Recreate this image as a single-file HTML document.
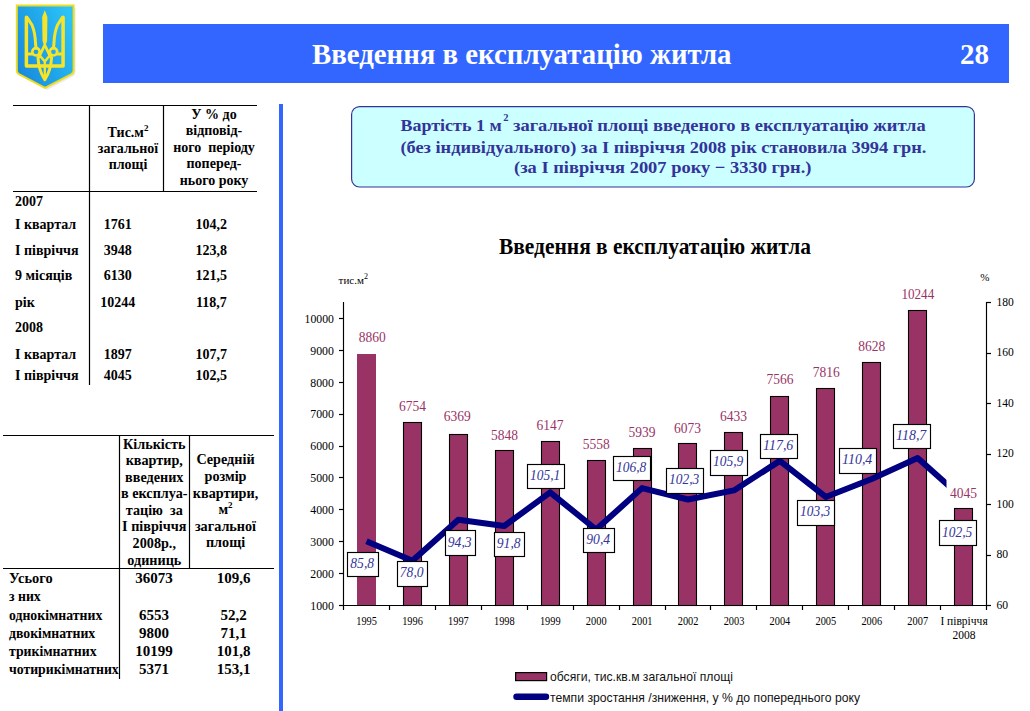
<!DOCTYPE html>
<html><head><meta charset="utf-8">
<style>
html,body{margin:0;padding:0;background:#fff;}
body{width:1030px;height:711px;position:relative;overflow:hidden;}
svg{position:absolute;left:0;top:0;}
text{font-family:"Liberation Serif",serif;fill:#000;}
.hd{font-size:29px;font-weight:bold;fill:#fff;}
.tb{font-size:14px;font-weight:bold;}
.tb2{font-size:14.2px;font-weight:bold;}
.tr2{font-size:13.75px;font-weight:bold;}
.tn2{font-size:15px;font-weight:bold;}
.sup{font-size:9px;}
.sup2{font-size:8px;}
.ibs{font-size:10.5px;font-weight:bold;fill:#333399;}
.ib{font-size:17px;font-weight:bold;fill:#333399;}
.ct{font-size:22.6px;font-weight:bold;}
.un{font-size:11px;}
.ax{font-size:13.2px;}
.xl{font-size:11.5px;}
.vl{font-size:15px;fill:#993366;}
.pl{font-size:14.6px;font-style:italic;fill:#333399;}
.lg{font-family:"Liberation Sans",sans-serif;font-size:12.2px;fill:#111;}
</style></head><body>
<svg width="1030" height="711" viewBox="0 0 1030 711">

 <defs>
  <linearGradient id="sg" x1="0" y1="0.8" x2="1" y2="0.2">
   <stop offset="0" stop-color="#1a88da"/>
   <stop offset="0.5" stop-color="#20a6ea"/>
   <stop offset="1" stop-color="#2cc4f8"/>
  </linearGradient>
 </defs>
 <path d="M18.5 7.5 H75.5 V72 Q75.5 75 73 76.2 L47 90 L21.4 76.2 Q18.5 75 18.5 72 Z" fill="#d4d4d4" opacity="0.5"/>
 <path d="M16.8 5.6 H73.6 V70.5 Q73.6 73.2 71 74.4 L45 87.8 L19.4 74.4 Q16.8 73.2 16.8 70.5 Z" fill="url(#sg)" stroke="#eedc1e" stroke-width="2"/>
 <g fill="none" stroke="#f7e428" stroke-width="3" stroke-linejoin="round" stroke-linecap="round">
  <path d="M26.4 17.2 V65.9 H63.1 V17.2" stroke-width="3.5"/>
  <path d="M27.2 54 H32.4 M57.1 54 H62.4" stroke-width="2.8"/>
  <path d="M27.2 17.6 L32 25 Q35.2 33 35.5 43 L36 48"/>
  <path d="M62.3 17.6 L57.5 25 Q54.3 33 54 43 L53.5 48"/>
  <circle cx="36" cy="51.8" r="3.7" stroke-width="2.7"/>
  <circle cx="53.5" cy="51.8" r="3.7" stroke-width="2.7"/>
  <path d="M44.8 45 L39 56.8 M44.8 45 L50.5 56.8" stroke-width="2.8"/>
  <path d="M39.3 55 L44.8 61.5 L50.2 55" stroke-width="2.5"/>
  <path d="M38 57.5 Q38.6 70 44.8 79.8 Q51 70 51.6 57.5" stroke-width="3"/>
  <path d="M44.8 61.5 V77" stroke-width="2.3"/>
 </g>
 <path d="M44.8 10.2 L47.4 17 L47.1 41 L44.8 47.5 L42.5 41 L42.2 17 Z" fill="#f7e428"/>

<rect x="103" y="24" width="906" height="59" fill="#3366ff"/>
<text x="312" y="64" textLength="419.5" lengthAdjust="spacingAndGlyphs" class="hd">Введення в експлуатацію житла</text>
<text x="960" y="64" class="hd">28</text>
<rect x="279" y="104" width="4" height="607" fill="#3366ff"/>
<line x1="13" y1="105.5" x2="257" y2="105.5" stroke="#000" stroke-width="1.2"/>
<line x1="13" y1="191.5" x2="257" y2="191.5" stroke="#000" stroke-width="1.2"/>
<line x1="89.5" y1="105" x2="89.5" y2="385" stroke="#000" stroke-width="1.2"/>
<line x1="163.5" y1="105" x2="163.5" y2="192" stroke="#000" stroke-width="1.2"/>
<text x="128" y="137" text-anchor="middle" class="tb">Тис.м<tspan class="sup" dy="-6">2</tspan></text>
<text x="128" y="152.8" text-anchor="middle" class="tb">загальної</text>
<text x="128" y="169.4" text-anchor="middle" class="tb">площі</text>
<text x="214" y="119" text-anchor="middle" class="tb">У % до</text>
<text x="214" y="135.3" text-anchor="middle" class="tb">відповід-</text>
<text x="214" y="151.8" text-anchor="middle" class="tb">ного&#160; періоду</text>
<text x="214" y="168.3" text-anchor="middle" class="tb">поперед-</text>
<text x="214" y="184.6" text-anchor="middle" class="tb">нього року</text>
<text x="15" y="205.7" class="tb">2007</text>
<text x="15" y="229.2" class="tb">І квартал</text>
<text x="117.7" y="229.2" text-anchor="middle" class="tb">1761</text>
<text x="211.3" y="229.2" text-anchor="middle" class="tb">104,2</text>
<text x="15" y="254.6" class="tb">І півріччя</text>
<text x="117.7" y="254.6" text-anchor="middle" class="tb">3948</text>
<text x="211.3" y="254.6" text-anchor="middle" class="tb">123,8</text>
<text x="15" y="280.3" class="tb">9 місяців</text>
<text x="117.7" y="280.3" text-anchor="middle" class="tb">6130</text>
<text x="211.3" y="280.3" text-anchor="middle" class="tb">121,5</text>
<text x="15" y="306.6" class="tb">рік</text>
<text x="117.7" y="306.6" text-anchor="middle" class="tb">10244</text>
<text x="211.3" y="306.6" text-anchor="middle" class="tb">118,7</text>
<text x="15" y="332.2" class="tb">2008</text>
<text x="15" y="358.8" class="tb">І квартал</text>
<text x="117.7" y="358.8" text-anchor="middle" class="tb">1897</text>
<text x="211.3" y="358.8" text-anchor="middle" class="tb">107,7</text>
<text x="15" y="379.6" class="tb">І півріччя</text>
<text x="117.7" y="379.6" text-anchor="middle" class="tb">4045</text>
<text x="211.3" y="379.6" text-anchor="middle" class="tb">102,5</text>
<line x1="3" y1="435.5" x2="274" y2="435.5" stroke="#000" stroke-width="1.2"/>
<line x1="3" y1="568.5" x2="274" y2="568.5" stroke="#000" stroke-width="1.2"/>
<line x1="119.5" y1="435" x2="119.5" y2="679" stroke="#000" stroke-width="1.2"/>
<line x1="189.5" y1="435" x2="189.5" y2="569" stroke="#000" stroke-width="1.2"/>
<text x="154.3" y="448.6" text-anchor="middle" class="tb2">Кількість</text>
<text x="154.3" y="465.17" text-anchor="middle" class="tb2">квартир,</text>
<text x="154.3" y="481.74" text-anchor="middle" class="tb2">введених</text>
<text x="154.3" y="498.31" text-anchor="middle" class="tb2">в експлуа-</text>
<text x="154.3" y="514.88" text-anchor="middle" class="tb2">тацію&#160; за</text>
<text x="154.3" y="531.45" text-anchor="middle" class="tb2">І півріччя</text>
<text x="154.3" y="548.02" text-anchor="middle" class="tb2">2008р.,</text>
<text x="154.3" y="564.59" text-anchor="middle" class="tb2">одиниць</text>
<text x="225.5" y="464.2" text-anchor="middle" class="tb2">Середній</text>
<text x="225.5" y="481" text-anchor="middle" class="tb2">розмір</text>
<text x="225.5" y="497.6" text-anchor="middle" class="tb2">квартири,</text>
<text x="225.5" y="514.3" text-anchor="middle" class="tb2">м<tspan class="sup" dy="-6">2</tspan></text>
<text x="225.5" y="531" text-anchor="middle" class="tb2">загальної</text>
<text x="225.5" y="547.3" text-anchor="middle" class="tb2">площі</text>
<text x="9" y="582.8" textLength="43.7" lengthAdjust="spacingAndGlyphs" class="tr2">Усього</text>
<text x="154.1" y="582.8" text-anchor="middle" class="tn2">36073</text>
<text x="233.5" y="582.8" text-anchor="middle" class="tn2">109,6</text>
<text x="9" y="601" class="tr2">з них</text>
<text x="9" y="619.8" class="tr2">однокімнатних</text>
<text x="154.1" y="619.8" text-anchor="middle" class="tn2">6553</text>
<text x="233.5" y="619.8" text-anchor="middle" class="tn2">52,2</text>
<text x="9" y="637.6" class="tr2">двокімнатних</text>
<text x="154.1" y="637.6" text-anchor="middle" class="tn2">9800</text>
<text x="233.5" y="637.6" text-anchor="middle" class="tn2">71,1</text>
<text x="9" y="655.7" class="tr2">трикімнатних</text>
<text x="154.1" y="655.7" text-anchor="middle" class="tn2">10199</text>
<text x="233.5" y="655.7" text-anchor="middle" class="tn2">101,8</text>
<text x="9" y="673.8" class="tr2">чотирикімнатних</text>
<text x="154.1" y="673.8" text-anchor="middle" class="tn2">5371</text>
<text x="233.5" y="673.8" text-anchor="middle" class="tn2">153,1</text>
<rect x="351.6" y="106.6" width="622.8" height="80.4" rx="8" ry="8" fill="#ccffff" stroke="#333399" stroke-width="1.2"/>
<text x="400.4" y="131" textLength="101.3" lengthAdjust="spacingAndGlyphs" class="ib">Вартість 1 м</text>
<text x="503.2" y="121.3" class="ibs">2</text>
<text x="513" y="131" textLength="412.7" lengthAdjust="spacingAndGlyphs" class="ib">загальної площі введеного в експлуатацію житла</text>
<text x="400.4" y="152.6" textLength="526" lengthAdjust="spacingAndGlyphs" class="ib">(без індивідуального) за І півріччя 2008 рік становила 3994 грн.</text>
<text x="514" y="173.4" textLength="297.5" lengthAdjust="spacingAndGlyphs" class="ib">(за І півріччя 2007 року − 3330 грн.)</text>
<text x="499" y="253.6" textLength="312" lengthAdjust="spacingAndGlyphs" class="ct">Введення в експлуатацію житла</text>
<text x="338.6" y="284" class="un">тис.м<tspan class="sup2" dy="-5">2</tspan></text>
<text x="980.2" y="281" class="un">%</text>
<rect x="357" y="354" width="19" height="251" fill="#993366"/>
<rect x="403.5" y="422.5" width="18" height="183" fill="#993366" stroke="#000" stroke-width="1.1"/>
<rect x="449.5" y="434.5" width="18" height="171" fill="#993366" stroke="#000" stroke-width="1.1"/>
<rect x="495.5" y="450.5" width="18" height="155" fill="#993366" stroke="#000" stroke-width="1.1"/>
<rect x="541.5" y="441.5" width="18" height="164" fill="#993366" stroke="#000" stroke-width="1.1"/>
<rect x="587.5" y="460.5" width="18" height="145" fill="#993366" stroke="#000" stroke-width="1.1"/>
<rect x="633.5" y="448.5" width="18" height="157" fill="#993366" stroke="#000" stroke-width="1.1"/>
<rect x="678.5" y="443.5" width="18" height="162" fill="#993366" stroke="#000" stroke-width="1.1"/>
<rect x="724.5" y="432.5" width="18" height="173" fill="#993366" stroke="#000" stroke-width="1.1"/>
<rect x="770.5" y="396.5" width="18" height="209" fill="#993366" stroke="#000" stroke-width="1.1"/>
<rect x="816.5" y="388.5" width="18" height="217" fill="#993366" stroke="#000" stroke-width="1.1"/>
<rect x="862.5" y="362.5" width="18" height="243" fill="#993366" stroke="#000" stroke-width="1.1"/>
<rect x="908.5" y="310.5" width="18" height="295" fill="#993366" stroke="#000" stroke-width="1.1"/>
<rect x="954.5" y="508.5" width="18" height="97" fill="#993366" stroke="#000" stroke-width="1.1"/>
<path d="M343.5 302.0 V605.5 H986.5 V302.0" fill="none" stroke="#000" stroke-width="1.15"/>
<line x1="339.0" y1="605.5" x2="343.5" y2="605.5" stroke="#000" stroke-width="1.2"/>
<text x="310.29999999999995" y="609.8" textLength="23.6" lengthAdjust="spacingAndGlyphs" class="ax">1000</text>
<line x1="339.0" y1="573.5" x2="343.5" y2="573.5" stroke="#000" stroke-width="1.2"/>
<text x="310.29999999999995" y="577.91" textLength="23.6" lengthAdjust="spacingAndGlyphs" class="ax">2000</text>
<line x1="339.0" y1="541.5" x2="343.5" y2="541.5" stroke="#000" stroke-width="1.2"/>
<text x="310.29999999999995" y="546.02" textLength="23.6" lengthAdjust="spacingAndGlyphs" class="ax">3000</text>
<line x1="339.0" y1="509.5" x2="343.5" y2="509.5" stroke="#000" stroke-width="1.2"/>
<text x="310.29999999999995" y="514.13" textLength="23.6" lengthAdjust="spacingAndGlyphs" class="ax">4000</text>
<line x1="339.0" y1="477.5" x2="343.5" y2="477.5" stroke="#000" stroke-width="1.2"/>
<text x="310.29999999999995" y="482.24" textLength="23.6" lengthAdjust="spacingAndGlyphs" class="ax">5000</text>
<line x1="339.0" y1="446.5" x2="343.5" y2="446.5" stroke="#000" stroke-width="1.2"/>
<text x="310.29999999999995" y="450.36" textLength="23.6" lengthAdjust="spacingAndGlyphs" class="ax">6000</text>
<line x1="339.0" y1="414.5" x2="343.5" y2="414.5" stroke="#000" stroke-width="1.2"/>
<text x="310.29999999999995" y="418.47" textLength="23.6" lengthAdjust="spacingAndGlyphs" class="ax">7000</text>
<line x1="339.0" y1="382.5" x2="343.5" y2="382.5" stroke="#000" stroke-width="1.2"/>
<text x="310.29999999999995" y="386.58" textLength="23.6" lengthAdjust="spacingAndGlyphs" class="ax">8000</text>
<line x1="339.0" y1="350.5" x2="343.5" y2="350.5" stroke="#000" stroke-width="1.2"/>
<text x="310.29999999999995" y="354.69" textLength="23.6" lengthAdjust="spacingAndGlyphs" class="ax">9000</text>
<line x1="339.0" y1="318.5" x2="343.5" y2="318.5" stroke="#000" stroke-width="1.2"/>
<text x="304.59999999999997" y="322.8" textLength="29.3" lengthAdjust="spacingAndGlyphs" class="ax">10000</text>
<line x1="986.5" y1="605.5" x2="991.0" y2="605.5" stroke="#000" stroke-width="1.2"/>
<text x="996.4" y="608.9" textLength="11.6" lengthAdjust="spacingAndGlyphs" class="ax">60</text>
<line x1="986.5" y1="555.5" x2="991.0" y2="555.5" stroke="#000" stroke-width="1.2"/>
<text x="996.4" y="558.4" textLength="11.6" lengthAdjust="spacingAndGlyphs" class="ax">80</text>
<line x1="986.5" y1="504.5" x2="991.0" y2="504.5" stroke="#000" stroke-width="1.2"/>
<text x="996.4" y="507.9" textLength="17.3" lengthAdjust="spacingAndGlyphs" class="ax">100</text>
<line x1="986.5" y1="454.5" x2="991.0" y2="454.5" stroke="#000" stroke-width="1.2"/>
<text x="996.4" y="457.4" textLength="17.3" lengthAdjust="spacingAndGlyphs" class="ax">120</text>
<line x1="986.5" y1="403.5" x2="991.0" y2="403.5" stroke="#000" stroke-width="1.2"/>
<text x="996.4" y="406.9" textLength="17.3" lengthAdjust="spacingAndGlyphs" class="ax">140</text>
<line x1="986.5" y1="353.5" x2="991.0" y2="353.5" stroke="#000" stroke-width="1.2"/>
<text x="996.4" y="356.4" textLength="17.3" lengthAdjust="spacingAndGlyphs" class="ax">160</text>
<line x1="986.5" y1="302.5" x2="991.0" y2="302.5" stroke="#000" stroke-width="1.2"/>
<text x="996.4" y="305.9" textLength="17.3" lengthAdjust="spacingAndGlyphs" class="ax">180</text>
<line x1="343.5" y1="605.5" x2="343.5" y2="610.0" stroke="#000" stroke-width="1.2"/>
<line x1="389.5" y1="605.5" x2="389.5" y2="610.0" stroke="#000" stroke-width="1.2"/>
<line x1="435.5" y1="605.5" x2="435.5" y2="610.0" stroke="#000" stroke-width="1.2"/>
<line x1="481.5" y1="605.5" x2="481.5" y2="610.0" stroke="#000" stroke-width="1.2"/>
<line x1="527.5" y1="605.5" x2="527.5" y2="610.0" stroke="#000" stroke-width="1.2"/>
<line x1="573.5" y1="605.5" x2="573.5" y2="610.0" stroke="#000" stroke-width="1.2"/>
<line x1="619.5" y1="605.5" x2="619.5" y2="610.0" stroke="#000" stroke-width="1.2"/>
<line x1="665.5" y1="605.5" x2="665.5" y2="610.0" stroke="#000" stroke-width="1.2"/>
<line x1="710.5" y1="605.5" x2="710.5" y2="610.0" stroke="#000" stroke-width="1.2"/>
<line x1="756.5" y1="605.5" x2="756.5" y2="610.0" stroke="#000" stroke-width="1.2"/>
<line x1="802.5" y1="605.5" x2="802.5" y2="610.0" stroke="#000" stroke-width="1.2"/>
<line x1="848.5" y1="605.5" x2="848.5" y2="610.0" stroke="#000" stroke-width="1.2"/>
<line x1="894.5" y1="605.5" x2="894.5" y2="610.0" stroke="#000" stroke-width="1.2"/>
<line x1="940.5" y1="605.5" x2="940.5" y2="610.0" stroke="#000" stroke-width="1.2"/>
<line x1="986.5" y1="605.5" x2="986.5" y2="610.0" stroke="#000" stroke-width="1.2"/>
<text x="356.21" y="625" textLength="20.7" lengthAdjust="spacingAndGlyphs" class="xl">1995</text>
<text x="402.14" y="625" textLength="20.7" lengthAdjust="spacingAndGlyphs" class="xl">1996</text>
<text x="448.07" y="625" textLength="20.7" lengthAdjust="spacingAndGlyphs" class="xl">1997</text>
<text x="494.0" y="625" textLength="20.7" lengthAdjust="spacingAndGlyphs" class="xl">1998</text>
<text x="539.93" y="625" textLength="20.7" lengthAdjust="spacingAndGlyphs" class="xl">1999</text>
<text x="585.86" y="625" textLength="20.7" lengthAdjust="spacingAndGlyphs" class="xl">2000</text>
<text x="631.79" y="625" textLength="20.7" lengthAdjust="spacingAndGlyphs" class="xl">2001</text>
<text x="677.71" y="625" textLength="20.7" lengthAdjust="spacingAndGlyphs" class="xl">2002</text>
<text x="723.64" y="625" textLength="20.7" lengthAdjust="spacingAndGlyphs" class="xl">2003</text>
<text x="769.57" y="625" textLength="20.7" lengthAdjust="spacingAndGlyphs" class="xl">2004</text>
<text x="815.5" y="625" textLength="20.7" lengthAdjust="spacingAndGlyphs" class="xl">2005</text>
<text x="861.43" y="625" textLength="20.7" lengthAdjust="spacingAndGlyphs" class="xl">2006</text>
<text x="907.36" y="625" textLength="20.7" lengthAdjust="spacingAndGlyphs" class="xl">2007</text>
<text x="964.04" y="625" text-anchor="middle" class="xl">І півріччя</text>
<text x="964.04" y="638.5" text-anchor="middle" class="xl">2008</text>
<clipPath id="lc"><rect x="300" y="280" width="646.5" height="340"/></clipPath>
<polyline points="366.46,541.15 412.39,560.85 458.32,519.69 504.25,526.00 550.18,492.42 596.11,529.54 642.04,488.13 687.96,499.49 733.89,490.40 779.82,460.86 825.75,496.97 871.68,479.04 917.61,458.08 952.00,488.71" fill="none" stroke="#000080" stroke-width="6" stroke-linejoin="round" clip-path="url(#lc)"/>
<text x="358.85" y="342.0" textLength="27" lengthAdjust="spacingAndGlyphs" class="vl">8860</text>
<text x="399.1" y="411.1" textLength="27" lengthAdjust="spacingAndGlyphs" class="vl">6754</text>
<text x="443.7" y="420.7" textLength="27" lengthAdjust="spacingAndGlyphs" class="vl">6369</text>
<text x="491.1" y="440.3" textLength="27" lengthAdjust="spacingAndGlyphs" class="vl">5848</text>
<text x="536.6" y="429.8" textLength="27" lengthAdjust="spacingAndGlyphs" class="vl">6147</text>
<text x="582.75" y="448.8" textLength="27" lengthAdjust="spacingAndGlyphs" class="vl">5558</text>
<text x="628.5" y="437.2" textLength="27" lengthAdjust="spacingAndGlyphs" class="vl">5939</text>
<text x="674.0" y="433.40000000000003" textLength="27" lengthAdjust="spacingAndGlyphs" class="vl">6073</text>
<text x="720.0" y="421.0" textLength="27" lengthAdjust="spacingAndGlyphs" class="vl">6433</text>
<text x="766.5" y="384.40000000000003" textLength="27" lengthAdjust="spacingAndGlyphs" class="vl">7566</text>
<text x="812.7" y="377.2" textLength="27" lengthAdjust="spacingAndGlyphs" class="vl">7816</text>
<text x="858.15" y="351.0" textLength="27" lengthAdjust="spacingAndGlyphs" class="vl">8628</text>
<text x="901.4" y="299.0" textLength="32.8" lengthAdjust="spacingAndGlyphs" class="vl">10244</text>
<text x="949.9" y="497.7" textLength="27" lengthAdjust="spacingAndGlyphs" class="vl">4045</text>
<rect x="347.5" y="552.5" width="31" height="24" fill="#fff" stroke="#000" stroke-width="1.15"/>
<text x="350.3" y="568.1" textLength="23.8" lengthAdjust="spacingAndGlyphs" class="pl">85,8</text>
<rect x="397.5" y="561.5" width="30" height="25" fill="#fff" stroke="#000" stroke-width="1.15"/>
<text x="399.8" y="577.35" textLength="23.8" lengthAdjust="spacingAndGlyphs" class="pl">78,0</text>
<rect x="445.5" y="530.5" width="30" height="25" fill="#fff" stroke="#000" stroke-width="1.15"/>
<text x="447.8" y="546.55" textLength="23.8" lengthAdjust="spacingAndGlyphs" class="pl">94,3</text>
<rect x="494.5" y="532.5" width="30" height="24" fill="#fff" stroke="#000" stroke-width="1.15"/>
<text x="496.8" y="548.05" textLength="23.8" lengthAdjust="spacingAndGlyphs" class="pl">91,8</text>
<rect x="527.5" y="464.5" width="37" height="24" fill="#fff" stroke="#000" stroke-width="1.15"/>
<text x="530.1" y="480.05" textLength="30.2" lengthAdjust="spacingAndGlyphs" class="pl">105,1</text>
<rect x="583.5" y="528.5" width="31" height="24" fill="#fff" stroke="#000" stroke-width="1.15"/>
<text x="586.3" y="543.95" textLength="23.8" lengthAdjust="spacingAndGlyphs" class="pl">90,4</text>
<rect x="613.5" y="456.5" width="37" height="24" fill="#fff" stroke="#000" stroke-width="1.15"/>
<text x="616.1" y="471.65" textLength="30.2" lengthAdjust="spacingAndGlyphs" class="pl">106,8</text>
<rect x="666.5" y="468.5" width="37" height="25" fill="#fff" stroke="#000" stroke-width="1.15"/>
<text x="669.1" y="484.25" textLength="30.2" lengthAdjust="spacingAndGlyphs" class="pl">102,3</text>
<rect x="710.5" y="450.5" width="37" height="25" fill="#fff" stroke="#000" stroke-width="1.15"/>
<text x="713.1" y="466.35" textLength="30.2" lengthAdjust="spacingAndGlyphs" class="pl">105,9</text>
<rect x="760.5" y="434.5" width="37" height="24" fill="#fff" stroke="#000" stroke-width="1.15"/>
<text x="763.1" y="449.75" textLength="30.2" lengthAdjust="spacingAndGlyphs" class="pl">117,6</text>
<rect x="797.5" y="500.5" width="37" height="25" fill="#fff" stroke="#000" stroke-width="1.15"/>
<text x="800.1" y="515.65" textLength="30.2" lengthAdjust="spacingAndGlyphs" class="pl">103,3</text>
<rect x="839.5" y="448.5" width="37" height="25" fill="#fff" stroke="#000" stroke-width="1.15"/>
<text x="842.1" y="464.2" textLength="30.2" lengthAdjust="spacingAndGlyphs" class="pl">110,4</text>
<rect x="893.5" y="424.5" width="37" height="24" fill="#fff" stroke="#000" stroke-width="1.15"/>
<text x="896.1" y="440.0" textLength="30.2" lengthAdjust="spacingAndGlyphs" class="pl">118,7</text>
<rect x="939.5" y="520.5" width="37" height="25" fill="#fff" stroke="#000" stroke-width="1.15"/>
<text x="942.1" y="536.5" textLength="30.2" lengthAdjust="spacingAndGlyphs" class="pl">102,5</text>
<rect x="515.6" y="672.6" width="31" height="8" fill="#993366" stroke="#000" stroke-width="1.2"/>
<line x1="516.5" y1="696.7" x2="546" y2="696.7" stroke="#000080" stroke-width="6.4" stroke-linecap="round"/>
<text x="550" y="681.3" textLength="183" lengthAdjust="spacingAndGlyphs" class="lg">обсяги, тис.кв.м загальної площі</text>
<text x="550" y="701.8" textLength="310" lengthAdjust="spacingAndGlyphs" class="lg">темпи зростання /зниження, у % до попереднього року</text>
</svg>
</body></html>
